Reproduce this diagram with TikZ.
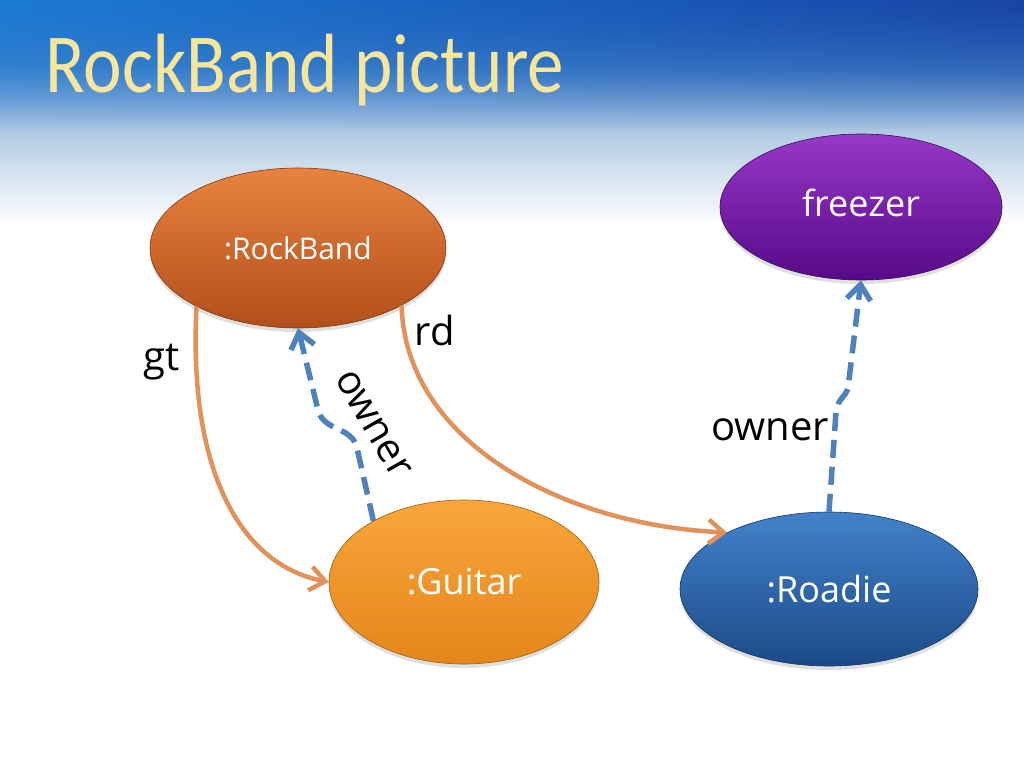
\documentclass[tikz,border=0pt]{standalone}
\usepackage{fontspec}
\setmainfont{Open Sans}
\newfontfamily\titlefont[FakeStretch=0.87]{Carlito}
\usetikzlibrary{shapes.geometric,arrows.meta,shadows,fadings}
\definecolor{bgA}{HTML}{1655B8}
\definecolor{bgB}{HTML}{3E7CC6}
\definecolor{bgC}{HTML}{B4CCE2}
\definecolor{bgL}{HTML}{1E8CE2}
\definecolor{bgR}{HTML}{1A3E9E}
\definecolor{rbtop}{HTML}{E8833F}
\definecolor{rbbot}{HTML}{B24E1A}
\definecolor{gutop}{HTML}{F9A63A}
\definecolor{gubot}{HTML}{E4861C}
\definecolor{rotop}{HTML}{4282CA}
\definecolor{robot}{HTML}{1C4A88}
\definecolor{frtop}{HTML}{9838C8}
\definecolor{frbot}{HTML}{560A88}
\definecolor{orln}{HTML}{E3915A}
\definecolor{blln}{HTML}{4F81BD}
\definecolor{titlecol}{HTML}{F8E59C}
\tikzfading[name=topfade, top color=transparent!0, bottom color=transparent!100]
\pgfdeclareverticalshading{bgshade}{100bp}{color(0bp)=(white); color(25bp)=(white); color(45bp)=(bgC); color(60bp)=(bgB); color(75bp)=(bgA); color(100bp)=(bgA)}
\tikzset{
  obj/.style={ellipse, inner sep=0pt, text=white, shading=axis, draw=#1!70!black, line width=0.6pt,
    drop shadow={opacity=0.25, shadow xshift=0pt, shadow yshift=-4pt}},
  lbl/.style={font=\fontsize{40}{40}\selectfont, text=black},
  objtxt/.style={font=\fontsize{#1}{#1}\selectfont},
  linkarrow/.style={draw=orln, line width=4.5pt, -{Straight Barb[length=15pt,width=24pt]}},
  ownarrow/.style={draw=blln, line width=5.5pt, dash pattern=on 18pt off 9pt, -{Straight Barb[length=15pt,width=24pt]}}
}
\begin{document}
\begin{tikzpicture}[x=1pt, y=-1pt]
\useasboundingbox (0,0) rectangle (1024,768);
\fill[white] (0,0) rectangle (1024,768);
\shade[shading=bgshade] (0,0) rectangle (1024,225);
\shade[left color=bgL, right color=bgR, path fading=topfade, opacity=0.7] (0,0) rectangle (1024,130);
% title
\node[anchor=base west, font=\titlefont\fontsize{84}{84}\selectfont, text=titlecol] (title) at (42,92) {RockBand picture};
% objects
\node[obj=rbbot, top color=rbtop, bottom color=rbbot, minimum width=296pt, minimum height=160pt, objtxt=30] (rb) at (298,248) {:RockBand};
\node[obj=frbot, top color=frtop, bottom color=frbot, minimum width=282pt, minimum height=146pt, objtxt=36, text depth=9pt] (fr) at (861,207) {freezer};
\node[obj=gubot, top color=gutop, bottom color=gubot, minimum width=270pt, minimum height=164pt, objtxt=36] (gu) at (464,582) {:Guitar};
\node[obj=robot, top color=rotop, bottom color=robot, minimum width=298pt, minimum height=154pt, objtxt=36] (ro) at (829,589) {:Roadie};
% links
\draw[linkarrow] (rb.-150) .. controls (188,470) and (240,565) .. (gu.west);
\draw[linkarrow] (rb.-29) .. controls (405,440) and (560,525) .. (ro.151);
\draw[ownarrow] (gu.146) -- (357,448) .. controls (352,426) and (324,432) .. (318,410) -- (rb.south);
\draw[ownarrow] (ro.north) -- (836,412) .. controls (838,398) and (845,398) .. (848,388) -- (fr.south);
% labels
\node[lbl] (gtl) at (162,362) {gt};
\node[lbl] (rdl) at (435,330) {rd};
\node[lbl, rotate=-60] (ow1) at (373,424) {owner};
\node[lbl] (ow2) at (770,430) {owner};
\end{tikzpicture}
\end{document}
